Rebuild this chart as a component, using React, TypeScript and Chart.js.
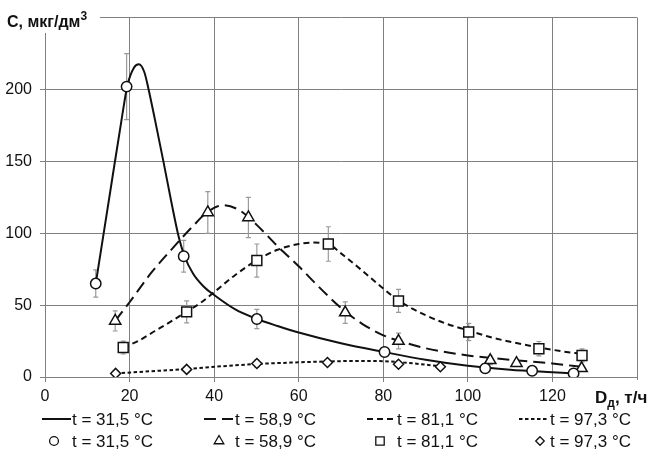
import React, { useEffect, useRef } from 'react';
import { Chart, registerables } from 'chart.js';
import { drawPoint } from 'chart.js/helpers';

Chart.register(...registerables);

const seriesLabels = ['t = 31,5 °C', 't = 58,9 °C', 't = 81,1 °C', 't = 97,3 °C'];

// Fitted curves
const curve1X = [12, 15, 18, 19.5, 21, 22.2, 23.5, 24.5, 26, 28, 30, 31.5, 33, 35, 37.5, 40, 45, 50, 55, 60, 70, 80, 90, 100, 110, 120, 125];
const curve1Y = [65, 121, 177, 203, 215, 217.5, 212, 200, 179, 150, 120, 99, 84, 72, 63, 57, 47, 40.5, 35.5, 31, 23.5, 17.5, 12, 7.8, 5, 3.3, 2.5];
const curve2X = [16.6, 20, 25, 30, 35, 38.5, 42.2, 46, 50, 55, 60, 65, 70, 75, 80, 85, 90, 100, 110, 120, 127];
const curve2Y = [39, 52, 72, 89, 105, 115, 119.5, 116, 106, 91, 77, 62, 48, 37, 29, 24, 20, 15, 12, 9.4, 7];
const curve3X = [18.5, 22, 26, 30, 33.5, 37, 40, 45, 50, 55, 60, 63.5, 67, 70, 75, 80, 84, 90, 95, 100, 105, 110, 117, 122, 127];
const curve3Y = [20.5, 25, 32, 39, 45.5, 52, 59, 71, 81, 88.5, 92.5, 93.5, 92.5, 86, 74, 61.5, 52.5, 43, 37, 32.5, 28, 24.5, 20.5, 18, 16];
const curve4X = [16.7, 25, 33.5, 42, 50, 58, 66.8, 75, 80, 85, 93.5];
const curve4Y = [2.5, 4, 5.5, 7.5, 9, 10, 10.8, 11.2, 11, 10, 7.5];

// Measured points with error bars
const pts1X = [12, 19.3, 32.8, 50.1, 80.3, 104.1, 115.2, 125];
const pts1Y = [65, 202, 84, 40.3, 17.4, 6, 4.3, 2.5];
const pts1Err = [9.5, 23, 11, 6.7, 3, 2, 1.5, 1.5];
const pts2X = [16.6, 38.5, 48.1, 71, 83.6, 105.3, 111.5, 126.9];
const pts2Y = [39, 114.5, 111, 44.8, 25, 11.6, 9.6, 6];
const pts2Err = [7, 14.5, 14, 7.5, 5.5, 3, 2, 2];
const pts3X = [18.5, 33.5, 50.1, 67, 83.6, 100.2, 116.8, 127];
const pts3Y = [20.5, 45.3, 81, 92.5, 52.9, 31.3, 19.7, 15];
const pts3Err = [4.5, 7.7, 11.5, 12, 8, 6, 5, 4.5];
const pts4X = [16.7, 33.5, 50.1, 66.8, 83.6, 93.5];
const pts4Y = [2.5, 5.3, 9.4, 10.1, 8.9, 7.1];
const pts4Err = [1.5, 2, 2.5, 2, 2, 1.5];

const xTickLabels = ['0', '20', '40', '60', '80', '100', '120', ''];
const yTickLabels = ['0', '50', '100', '150', '200', ''];

const yTitle = 'C, мкг/дм';
const yTitleSup = '3';
const xTitleMain = 'D';
const xTitleSub = 'д';
const xTitleRest = ', т/ч';

const FONT = "'Liberation Sans', Arial, sans-serif";
const INK = '#111';
const GRID = '#808080';

const toXY = (xs: number[], ys: number[]) => xs.map((x, i) => ({ x, y: ys[i] }));

const curveDash = [[], [12, 6], [6, 4], [3.5, 2.5]];
const markerStyles = ['circle', 'triangle', 'rect', 'rectRot'];
const markerRadius = [5.2, 6.5, 7, 5];

const curves = [
  [curve1X, curve1Y],
  [curve2X, curve2Y],
  [curve3X, curve3Y],
  [curve4X, curve4Y],
];
const markers = [
  [pts1X, pts1Y, pts1Err],
  [pts2X, pts2Y, pts2Err],
  [pts3X, pts3Y, pts3Err],
  [pts4X, pts4Y, pts4Err],
];

const errorBarsPlugin = {
  id: 'errorBars',
  beforeDatasetsDraw(chart: any) {
    const { ctx, scales } = chart;
    const xs = scales.x, ys = scales.y;
    ctx.save();
    ctx.strokeStyle = '#9a9a9a';
    ctx.lineWidth = 1.2;
    markers.forEach(([mx, my, me]) => {
      mx.forEach((xv: number, i: number) => {
        const px = xs.getPixelForValue(xv);
        const top = ys.getPixelForValue(my[i] + me[i]);
        const bot = ys.getPixelForValue(Math.max(0, my[i] - me[i]));
        ctx.beginPath();
        ctx.moveTo(px, top); ctx.lineTo(px, bot);
        ctx.moveTo(px - 2.5, top); ctx.lineTo(px + 2.5, top);
        ctx.moveTo(px - 2.5, bot); ctx.lineTo(px + 2.5, bot);
        ctx.stroke();
      });
    });
    ctx.restore();
  },
};

const decorPlugin = {
  id: 'decor',
  afterDraw(chart: any) {
    const ctx = chart.ctx;
    ctx.save();
    // y title
    ctx.fillStyle = '#fff';
    ctx.fillRect(0, 0, 100, 33);
    ctx.fillStyle = INK;
    ctx.textBaseline = 'alphabetic';
    ctx.textAlign = 'left';
    ctx.font = `bold 16px ${FONT}`;
    ctx.fillText(yTitle, 7, 27);
    const w = ctx.measureText(yTitle).width;
    ctx.font = `bold 12px ${FONT}`;
    ctx.fillText(yTitleSup, 7 + w, 20);

    // x title
    ctx.fillStyle = '#fff';
    ctx.fillRect(586, 380, 64, 28);
    ctx.fillStyle = INK;
    ctx.font = `bold 17px ${FONT}`;
    let x = 595;
    ctx.fillText(xTitleMain, x, 403);
    x += ctx.measureText(xTitleMain).width;
    ctx.font = `bold 12px ${FONT}`;
    ctx.fillText(xTitleSub, x, 407);
    x += ctx.measureText(xTitleSub).width;
    ctx.font = `bold 17px ${FONT}`;
    ctx.fillText(xTitleRest, x, 403);

    // legend
    const lineX = [42, 204, 367, 519];
    const markX = [54, 219, 380, 540];
    const textX = [72, 235, 397, 550];
    const row1 = 419, row2 = 441;
    ctx.font = `17px ${FONT}`;
    ctx.textBaseline = 'middle';
    for (let i = 0; i < 4; i++) {
      ctx.save();
      ctx.strokeStyle = INK;
      ctx.lineWidth = 2;
      ctx.setLineDash(curveDash[i]);
      ctx.beginPath();
      ctx.moveTo(lineX[i], row1);
      ctx.lineTo(lineX[i] + 29, row1);
      ctx.stroke();
      ctx.restore();
      ctx.fillStyle = INK;
      ctx.fillText(seriesLabels[i], textX[i], row1 + 1);

      ctx.save();
      ctx.strokeStyle = INK;
      ctx.fillStyle = '#fff';
      ctx.lineWidth = 1.3;
      drawPoint(ctx, { pointStyle: markerStyles[i], radius: markerRadius[i] * 0.85, rotation: 0, borderWidth: 1.3 } as any, markX[i], row2);
      ctx.restore();
      ctx.fillStyle = INK;
      ctx.fillText(seriesLabels[i], textX[i], row2 + 1);
    }
    ctx.restore();
  },
};

export default function App() {
  const ref = useRef<HTMLCanvasElement | null>(null);
  useEffect(() => {
    if (!ref.current) return;
    const datasets: any[] = [];
    markers.forEach(([mx, my], i) => {
      datasets.push({
        label: seriesLabels[i] + ' (точки)',
        data: toXY(mx as number[], my as number[]),
        showLine: false,
        pointStyle: markerStyles[i],
        pointRadius: markerRadius[i],
        pointBorderWidth: 1.5,
        pointBorderColor: INK,
        pointBackgroundColor: '#fff',
        order: 1,
      });
    });
    curves.forEach(([cx, cy], i) => {
      datasets.push({
        label: seriesLabels[i],
        data: toXY(cx, cy),
        showLine: true,
        pointRadius: 0,
        borderColor: INK,
        borderWidth: 2,
        borderDash: curveDash[i],
        cubicInterpolationMode: 'monotone',
        fill: false,
        order: 2,
      });
    });

    const chart = new Chart(ref.current, {
      type: 'scatter',
      data: { datasets },
      plugins: [errorBarsPlugin, decorPlugin],
      options: {
        responsive: false,
        animation: false,
        devicePixelRatio: 1,
        layout: { padding: { top: 14, right: 13, left: 0, bottom: 0 } },
        plugins: { legend: { display: false }, tooltip: { enabled: false } },
        scales: {
          x: {
            type: 'linear',
            min: 0,
            max: 140,
            ticks: {
              stepSize: 20,
              color: INK,
              font: { family: FONT, size: 16 },
              padding: 5,
              maxRotation: 0,
              callback: (_v: any, i: number) => xTickLabels[i],
            },
            grid: { color: GRID, lineWidth: 1, tickLength: 5 },
            border: { color: GRID, width: 1 },
            afterFit: (s: any) => { s.height = 76; },
          },
          y: {
            type: 'linear',
            min: 0,
            max: 250,
            ticks: {
              stepSize: 50,
              color: INK,
              font: { family: FONT, size: 16 },
              padding: 8,
              callback: (_v: any, i: number) => yTickLabels[i],
            },
            grid: { color: GRID, lineWidth: 1, tickLength: 5 },
            border: { color: GRID, width: 1 },
            afterFit: (s: any) => { s.width = 45; },
          },
        },
      } as any,
    });
    return () => chart.destroy();
  }, []);

  return (
    <div style={{ position: 'fixed', left: 0, top: 0, width: 650, height: 453, background: '#fff' }}>
      <canvas ref={ref} width={650} height={453} style={{ display: 'block' }} />
    </div>
  );
}
